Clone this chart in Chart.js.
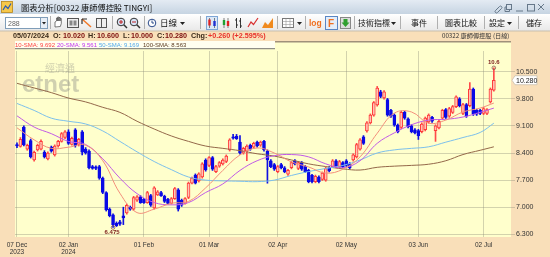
<!DOCTYPE html>
<html>
<head>
<meta charset="utf-8">
<script src="https://cdn.jsdelivr.net/npm/chart.js@4.4.1/dist/chart.umd.min.js"></script>
<style>
html, body { margin: 0; padding: 0; background: #f9dfb9; }
#wrap { position: relative; width: 550px; height: 257px; overflow: hidden; }
#c { position: absolute; left: 0; top: 0; }
#hdr { position: absolute; left: 0; top: 0; }
</style>
</head>
<body>
<div id="wrap">
<canvas id="c" width="550" height="257"></canvas>
<svg id="hdr" width="550" height="50" viewBox="0 0 550 50" xmlns="http://www.w3.org/2000/svg" font-family="'Noto Sans CJK TC','Liberation Sans',sans-serif">
  <defs>
    <linearGradient id="tg" x1="0" y1="0" x2="0" y2="1"><stop offset="0" stop-color="#e4ebf3"/><stop offset="1" stop-color="#c6d4e2"/></linearGradient>
    <linearGradient id="bg" x1="0" y1="0" x2="0" y2="1"><stop offset="0" stop-color="#ffffff"/><stop offset="1" stop-color="#e8e8e8"/></linearGradient>
  </defs>
  <!-- title bar -->
  <rect width="550" height="14" fill="url(#tg)"/>
  <rect x="1.5" y="1.5" width="11" height="11" fill="#f7c84a" stroke="#b8861a" stroke-width="0.8"/>
  <polyline points="3,10 5.5,6 8,8.5 11,3.5" fill="none" stroke="#2a5cb8" stroke-width="1.2"/>
  <text x="21" y="10.5" font-size="8.2" fill="#111">圖表分析[00322 康師傅控股 TINGYI]</text>
  <g stroke="#66788a" fill="none" stroke-width="1">
    <path d="M495.5 10.5 l4 -4 a1.4 1.4 0 0 1 2 2 l-4 4 a1.4 1.4 0 0 1 -2 -2z"/>
    <rect x="506.5" y="4.5" width="5" height="5"/>
    <path d="M506.5 7 h-1.5 v4.5 h4.5 v-1.5"/>
    <line x1="516" y1="11" x2="523" y2="11"/>
    <rect x="527.5" y="4.5" width="7" height="6.5"/>
    <path d="M538 4 l6 6 M544 4 l-6 6"/>
  </g>
  <!-- toolbar -->
  <rect x="0" y="14" width="550" height="17" fill="url(#bg)"/>
  <line x1="0" y1="31" x2="550" y2="31" stroke="#c9bfae"/>
  <rect x="5.5" y="17.5" width="35" height="11" fill="#fff" stroke="#7f9db9"/>
  <text x="8" y="26" font-size="7" fill="#666" font-family="Liberation Sans">288</text>
  <rect x="40.5" y="17.5" width="7" height="11" fill="#e8eef6" stroke="#7f9db9"/>
  <path d="M42 22 h4 l-2 2.5z" fill="#222"/>
  <g stroke="#b0b0b0">
    <line x1="50.5" y1="16" x2="50.5" y2="29"/>
    <line x1="112.5" y1="16" x2="112.5" y2="29"/>
    <line x1="144.5" y1="16" x2="144.5" y2="29"/>
    <line x1="200.5" y1="16" x2="200.5" y2="29"/>
    <line x1="277.5" y1="16" x2="277.5" y2="29"/>
    <line x1="305.5" y1="16" x2="305.5" y2="29"/>
    <line x1="354.5" y1="16" x2="354.5" y2="29"/>
    <line x1="400.5" y1="16" x2="400.5" y2="29"/>
    <line x1="437.5" y1="16" x2="437.5" y2="29"/>
    <line x1="484.5" y1="16" x2="484.5" y2="29"/>
    <line x1="518.5" y1="16" x2="518.5" y2="29"/>
  </g>
  <!-- icons -->
  <path d="M55 27 v-5 l1.5 -1 v-3 h1.2 v3 v-4 h1.2 v4 v-3.5 h1.2 v3.5 v-2.5 h1.2 v5 l-1 3 z" fill="#fff" stroke="#444" stroke-width="0.7"/>
  <rect x="67.5" y="18.5" width="11" height="9" fill="#eee" stroke="#555"/>
  <rect x="69.5" y="20.5" width="3" height="5" fill="#888"/><rect x="73.5" y="20.5" width="3" height="5" fill="#888"/>
  <line x1="82" y1="19" x2="91" y2="27" stroke="#f07828" stroke-width="1.5"/>
  <path d="M82 19 h5 M82 19 v5" stroke="#333" stroke-width="1.2"/>
  <rect x="96.5" y="18.5" width="10" height="9" fill="#eee" stroke="#555"/>
  <line x1="101.5" y1="18.5" x2="101.5" y2="27.5" stroke="#555"/>
  <circle cx="121" cy="22" r="3.8" fill="#d8e6f8" stroke="#333"/><path d="M119 22 h4 M121 20 v4" stroke="#c02020"/><line x1="123.8" y1="24.8" x2="127" y2="28" stroke="#333" stroke-width="1.5"/>
  <circle cx="134" cy="22" r="3.8" fill="#d8e6f8" stroke="#333"/><path d="M132 22 h4" stroke="#c02020"/><line x1="136.8" y1="24.8" x2="140" y2="28" stroke="#333" stroke-width="1.5"/>
  <circle cx="152" cy="23" r="3.8" fill="#fff" stroke="#2a4a8a"/><path d="M152 20.5 v2.5 h2" stroke="#2a4a8a" fill="none"/>
  <text x="160" y="26" font-size="8.5" fill="#111">日線</text>
  <path d="M180 22 h5 l-2.5 3z" fill="#222"/>
  <rect x="206.5" y="16.5" width="11" height="13" fill="#dbe8f7" stroke="#7ea6d6"/>
  <path d="M209.5 18 v10 M214.5 18 v10" stroke="#333" stroke-width="0.6"/>
  <rect x="208.3" y="19.5" width="2.4" height="6" fill="#e02020"/><rect x="213.3" y="21" width="2.4" height="5" fill="#2030d0"/>
  <path d="M224 18 v10 M228 18 v10" stroke="#333" stroke-width="0.6"/>
  <rect x="222.8" y="20" width="2.4" height="5" fill="#20a030"/><rect x="226.8" y="21" width="2.4" height="5" fill="#e02020"/>
  <path d="M236.5 18 v10 M240.5 18 v10 M235 20 h1.5 M236.5 25 h1.5 M239 21 h1.5 M240.5 26 h1.5" stroke="#222" stroke-width="0.9"/>
  <polyline points="248,27 251,22 253.5,24.5 258,18" fill="none" stroke="#d83030" stroke-width="1.2"/>
  <path d="M262 28 l3 -6 l3 3 l5 -7 v10 z" fill="#f08a1e"/>
  <rect x="282.5" y="18.5" width="11" height="9" fill="#fff" stroke="#777"/>
  <path d="M282.5 21.5 h11 M282.5 24.5 h11 M286 18.5 v9 M290 18.5 v9" stroke="#999" stroke-width="0.6"/>
  <path d="M297 22 h5 l-2.5 3z" fill="#222"/>
  <text x="309" y="26" font-size="8.5" font-weight="bold" fill="#f07020" font-family="Liberation Sans">log</text>
  <rect x="325.5" y="16.5" width="12" height="13" fill="#e4eefa" stroke="#5a86c4"/>
  <text x="328" y="27" font-size="10" font-weight="bold" fill="#f07020" font-family="Liberation Sans">F</text>
  <rect x="340.5" y="17.5" width="10" height="11" fill="#ddd" stroke="#888"/>
  <path d="M343.5 19 h4 v3.5 h2 l-4 4.5 l-4 -4.5 h2 z" fill="#30a030"/>
  <text x="358" y="26" font-size="8" fill="#111">技術指標</text>
  <path d="M391 22 h5 l-2.5 3z" fill="#222"/>
  <text x="411" y="26" font-size="8" fill="#111">事件</text>
  <text x="445" y="26" font-size="8" fill="#111">圖表比較</text>
  <text x="489" y="26" font-size="8" fill="#111">設定</text>
  <path d="M507 22 h5 l-2.5 3z" fill="#222"/>
  <text x="526" y="26" font-size="8" fill="#111">儲存</text>
  <!-- info band -->
  <g font-family="Liberation Sans" font-size="7.2" font-weight="bold">
    <text x="13" y="38" fill="#3a2a1a">05/07/2024</text>
    <text x="53" y="38" fill="#3a2a1a">O:</text><text x="63" y="38" fill="#7a0c0c">10.020</text>
    <text x="88" y="38" fill="#3a2a1a">H:</text><text x="97" y="38" fill="#7a0c0c">10.600</text>
    <text x="123" y="38" fill="#3a2a1a">L:</text><text x="131" y="38" fill="#7a0c0c">10.000</text>
    <text x="157" y="38" fill="#3a2a1a">C:</text><text x="165" y="38" fill="#7a0c0c">10.280</text>
    <text x="191" y="38" fill="#3a2a1a">Chg:</text><text x="208" y="38" fill="#e8302a">+0.260 (+2.595%)</text>
  </g>
  <text x="442" y="37.5" font-size="6.2" fill="#333">00322 康師傅控股 (日線)</text>
  <line x1="15" y1="41.8" x2="511" y2="41.8" stroke="#a0907a" stroke-width="1.4"/>
  <rect x="15" y="41" width="260" height="7.5" fill="#fffff0"/>
  <line x1="15" y1="48.6" x2="275" y2="48.6" stroke="#8f8f86" stroke-width="1.2"/>
  <g font-family="Liberation Sans" font-size="6">
    <text x="15" y="47" fill="#ff4040">10-SMA: 9.692</text>
    <text x="57" y="47" fill="#c030f0">20-SMA: 9.561</text>
    <text x="99" y="47" fill="#50a8ec">50-SMA: 9.169</text>
    <text x="143" y="47" fill="#5a3a20">100-SMA: 8.563</text>
  </g>
</svg>
</div>
<script>
// x ticks (trading-day index) and their labels
const tickIdx = [0, 15, 37, 56, 76, 96, 117, 136];
const tickLabels = [["07 Dec", "2023"], ["02 Jan", "2024"], "01 Feb", "01 Mar", "02 Apr", "02 May", "03 Jun", "02 Jul"];
const priceTicks = [6.3, 7.0, 7.7, 8.4, 9.1, 9.8, 10.5];

// daily candles, 07 Dec 2023 .. 05 Jul 2024
const open = [8.62, 8.57, 9.07, 8.50, 8.72, 8.22, 8.48, 8.50, 8.42, 8.25, 8.55, 8.35, 8.58, 8.70, 8.80,
  8.95, 8.62, 9.00, 8.62, 8.95, 8.50, 8.45, 8.05, 8.04, 8.05, 7.75, 7.38, 6.95, 6.80, 6.58, 6.62, 6.78, 6.85, 7.00, 6.95, 7.18, 7.27,
  7.20, 7.12, 7.30, 6.98, 7.32, 7.38, 7.28, 7.20, 7.10, 7.22, 7.45, 7.18, 7.10, 7.25, 7.62, 7.83, 7.68, 7.78, 8.22,
  8.08, 8.28, 7.92, 8.06, 8.12, 8.18, 8.48, 8.82, 8.83, 8.68, 8.40, 8.45, 8.60, 8.55, 8.68, 8.60, 8.70, 8.45, 8.20, 8.10,
  7.92, 8.10, 8.02, 7.85, 8.02, 8.20, 8.00, 8.15, 8.05, 7.95, 7.82, 7.66, 7.78, 7.72, 7.70, 8.02, 8.05, 8.20, 8.05, 8.15,
  8.20, 8.12, 8.22, 8.30, 8.50, 8.82, 8.97, 9.18, 9.38, 9.64, 9.98, 9.82, 9.78, 9.50, 9.38, 9.12, 9.06, 9.45, 9.28, 9.10, 9.00,
  8.98, 8.95, 9.00, 9.20, 9.32, 8.98, 9.05, 9.30, 9.52, 9.35, 9.45, 9.60, 9.80, 9.42, 9.65, 9.62, 10.05, 9.50, 9.50,
  9.42, 9.42, 9.72, 10.02];
const high = [8.66, 8.80, 9.10, 8.63, 8.76, 8.45, 8.63, 8.74, 8.46, 8.43, 8.58, 8.61, 8.73, 8.93, 8.98,
  9.00, 8.81, 9.03, 8.78, 8.98, 8.54, 8.48, 8.08, 8.07, 8.08, 7.78, 7.40, 6.98, 6.83, 6.62, 6.66, 7.00, 7.08, 7.03, 7.28, 7.30, 7.30,
  7.23, 7.41, 7.33, 7.53, 7.43, 7.41, 7.31, 7.23, 7.25, 7.51, 7.48, 7.21, 7.25, 7.65, 7.78, 7.86, 7.89, 8.15, 8.25,
  8.31, 8.31, 8.08, 8.18, 8.25, 8.35, 8.77, 8.88, 8.88, 8.85, 8.55, 8.61, 8.63, 8.68, 8.71, 8.71, 8.73, 8.48, 8.23, 8.13,
  8.08, 8.13, 8.05, 7.98, 8.18, 8.23, 8.18, 8.18, 8.08, 7.98, 7.85, 7.83, 7.81, 7.91, 8.03, 8.05, 8.23, 8.23, 8.21, 8.18,
  8.23, 8.15, 8.38, 8.65, 8.77, 8.85, 9.21, 9.41, 9.73, 10.12, 10.02, 10.01, 9.81, 9.53, 9.41, 9.15, 9.48, 9.48, 9.31, 9.13, 9.03,
  9.01, 9.18, 9.33, 9.41, 9.35, 9.13, 9.25, 9.53, 9.55, 9.58, 9.63, 9.88, 9.83, 9.68, 9.68, 10.22, 10.08, 9.53, 9.53,
  9.58, 9.55, 10.08, 10.60];
const low = [8.54, 8.55, 8.58, 8.47, 8.27, 8.19, 8.45, 8.48, 8.27, 8.22, 8.42, 8.32, 8.55, 8.68, 8.77,
  8.62, 8.60, 8.55, 8.58, 8.35, 8.37, 7.99, 7.98, 7.97, 7.72, 7.35, 6.90, 6.75, 6.475, 6.50, 6.53, 6.55, 6.82, 6.92, 6.92, 7.15, 7.10,
  7.10, 7.10, 7.02, 6.95, 7.30, 7.28, 7.12, 7.08, 7.08, 7.20, 6.90, 7.02, 7.08, 7.22, 7.60, 7.60, 7.65, 7.75, 7.93,
  8.05, 7.95, 7.89, 8.03, 8.09, 8.15, 8.45, 8.76, 8.75, 8.37, 8.37, 8.20, 8.47, 8.52, 8.55, 8.57, 8.45, 7.62, 8.02, 7.95,
  7.89, 7.99, 7.89, 7.82, 7.99, 8.09, 7.97, 7.95, 7.89, 7.63, 7.63, 7.63, 7.63, 7.69, 7.67, 7.91, 8.02, 8.02, 8.02, 8.02,
  8.05, 7.99, 8.19, 8.27, 8.47, 8.62, 8.94, 9.15, 9.35, 9.61, 9.83, 9.79, 9.35, 9.32, 9.09, 8.92, 9.03, 9.27, 9.05, 8.92, 8.89,
  8.75, 8.92, 8.97, 9.17, 9.19, 8.70, 9.02, 9.27, 9.29, 9.32, 9.42, 9.57, 9.59, 9.39, 9.32, 9.59, 9.37, 9.37, 9.39,
  9.39, 9.39, 9.69, 10.00];
const close = [8.58, 8.75, 8.61, 8.60, 8.30, 8.42, 8.60, 8.70, 8.30, 8.40, 8.45, 8.58, 8.70, 8.90, 8.95,
  8.65, 8.78, 8.58, 8.75, 8.42, 8.40, 8.02, 8.00, 8.00, 7.75, 7.38, 6.93, 6.78, 6.55, 6.52, 6.56, 6.72, 7.05, 6.95, 7.25, 7.27, 7.12,
  7.12, 7.38, 7.05, 7.50, 7.40, 7.30, 7.15, 7.10, 7.22, 7.48, 6.95, 7.05, 7.22, 7.62, 7.75, 7.62, 7.86, 8.12, 7.96,
  8.28, 7.98, 8.05, 8.15, 8.22, 8.32, 8.74, 8.78, 8.77, 8.40, 8.52, 8.58, 8.50, 8.65, 8.58, 8.68, 8.48, 8.22, 8.05, 7.98,
  8.05, 8.02, 7.92, 7.95, 8.15, 8.12, 8.15, 7.98, 7.92, 7.66, 7.66, 7.80, 7.66, 7.88, 8.00, 7.94, 8.20, 8.05, 8.18, 8.05,
  8.08, 8.02, 8.35, 8.62, 8.74, 8.65, 9.18, 9.38, 9.70, 10.08, 9.86, 9.98, 9.38, 9.35, 9.12, 8.95, 9.45, 9.30, 9.08, 8.95, 8.92,
  8.85, 9.15, 9.30, 9.38, 9.22, 9.10, 9.22, 9.50, 9.32, 9.55, 9.60, 9.85, 9.62, 9.65, 9.35, 10.05, 9.40, 9.40, 9.42,
  9.55, 9.52, 10.05, 10.28];

// moving averages at these day indices
const maIdx = [0, 5, 10, 15, 20, 25, 30, 35, 40, 45, 50, 55, 60, 65, 70, 75, 80, 85, 90, 95, 100, 105, 110, 115, 120, 125, 130, 135, 139];
const sma10 = [9.05, 8.74, 8.52, 8.55, 8.60, 8.20, 7.36, 6.86, 6.95, 7.10, 7.15, 7.50, 7.95, 8.35, 8.53, 8.40, 8.17, 8.04, 7.88, 7.98, 8.30, 8.91, 9.43, 9.46, 9.17, 9.25, 9.46, 9.56, 9.69];
const sma20 = [9.36, 9.07, 8.90, 8.70, 8.62, 8.25, 7.75, 7.35, 7.12, 7.06, 7.12, 7.38, 7.60, 7.95, 8.20, 8.33, 8.36, 8.30, 8.12, 8.02, 8.20, 8.65, 8.92, 9.13, 9.25, 9.27, 9.33, 9.45, 9.56];
const sma50 = [9.68, 9.50, 9.30, 9.22, 9.15, 8.97, 8.70, 8.43, 8.18, 7.97, 7.78, 7.70, 7.68, 7.67, 7.66, 7.70, 7.82, 7.92, 8.00, 8.08, 8.22, 8.40, 8.48, 8.52, 8.56, 8.68, 8.80, 8.93, 9.17];
const sma100 = [10.20, 10.08, 9.96, 9.82, 9.72, 9.58, 9.45, 9.22, 9.02, 8.84, 8.70, 8.58, 8.52, 8.46, 8.38, 8.32, 8.22, 8.12, 8.05, 7.99, 7.96, 8.03, 8.06, 8.08, 8.11, 8.20, 8.36, 8.47, 8.56];

const lastPrice = 10.28;
const lowMark = { i: 28, v: 6.475, text: "6.475" };
const highMark = { i: 139, v: 10.6, text: "10.6" };

const up = close.map((c, i) => c >= open[i]);
const wicks = close.map((c, i) => ({ x: i, y: [low[i], high[i]] }));
const bodies = close.map((c, i) => ({ x: i, y: [open[i], close[i]] }));
const maLine = (vals) => vals.map((v, k) => ({ x: maIdx[k], y: v }));

const gridColor = "rgba(140,140,120,0.38)";

const panelPlugin = {
    id: "panel",
    beforeDraw(chart) {
        const { ctx, chartArea: a } = chart;
        ctx.save();
        ctx.fillStyle = "#ffffcc";
        ctx.fillRect(a.left, 42, a.right - a.left, a.bottom - 42);
        ctx.restore();
    },
    beforeDatasetsDraw(chart) {
        const ctx = chart.ctx;
        ctx.save();
        ctx.fillStyle = "rgba(150,150,140,0.45)";
        ctx.font = "10px 'Noto Sans CJK TC'";
        ctx.textBaseline = "alphabetic";
        ctx.fillText("經濟通", 45, 72);
        ctx.font = "bold 24px 'Liberation Sans'";
        ctx.fillText("etnet", 22, 92);
        ctx.restore();
    },
    afterDatasetsDraw(chart) {
        const { ctx, scales: { x, y } } = chart;
        ctx.save();
        ctx.strokeStyle = "#8a5a50";
        ctx.lineWidth = 0.8;
        ctx.fillStyle = "#7a1a1a";
        ctx.font = "bold 6px 'Liberation Sans'";
        ctx.textAlign = "center";
        // low marker
        let px = x.getPixelForValue(lowMark.i), py = y.getPixelForValue(lowMark.v);
        ctx.beginPath(); ctx.arc(px, py, 1.8, 0, Math.PI * 2); ctx.stroke();
        ctx.textBaseline = "top";
        ctx.fillText(lowMark.text, px - 1, py + 2);
        // high marker
        px = x.getPixelForValue(highMark.i); py = y.getPixelForValue(highMark.v);
        ctx.beginPath(); ctx.arc(px, py, 1.8, 0, Math.PI * 2); ctx.stroke();
        ctx.textBaseline = "bottom";
        ctx.fillText(highMark.text, px, py - 2);
        // last price box on the axis
        const ly = y.getPixelForValue(lastPrice);
        const lx = chart.chartArea.right + 1;
        ctx.beginPath();
        ctx.moveTo(lx, ly);
        ctx.lineTo(lx + 3, ly - 4.5);
        ctx.lineTo(lx + 25, ly - 4.5);
        ctx.lineTo(lx + 25, ly + 4.5);
        ctx.lineTo(lx + 3, ly + 4.5);
        ctx.closePath();
        ctx.fillStyle = "#ffffff";
        ctx.fill();
        ctx.strokeStyle = "#c8c0b0";
        ctx.stroke();
        ctx.fillStyle = "#222";
        ctx.font = "7px 'Liberation Sans'";
        ctx.textAlign = "left";
        ctx.textBaseline = "middle";
        ctx.fillText(lastPrice.toFixed(3), lx + 4, ly + 0.5);
        ctx.restore();
    }
};

const ctx = document.getElementById("c").getContext("2d");
new Chart(ctx, {
    type: "bar",
    data: {
        datasets: [
            { type: "line", data: maLine(sma10), borderColor: "#f4907c", borderWidth: 1, pointRadius: 0, tension: 0.4, order: 0 },
            { type: "line", data: maLine(sma20), borderColor: "#c25be6", borderWidth: 1, pointRadius: 0, tension: 0.4, order: 0 },
            { type: "line", data: maLine(sma50), borderColor: "#7cc0ec", borderWidth: 1, pointRadius: 0, tension: 0.4, order: 0 },
            { type: "line", data: maLine(sma100), borderColor: "#94684a", borderWidth: 1, pointRadius: 0, tension: 0.4, order: 0 },
            {
                data: bodies,
                barThickness: 3,
                backgroundColor: up.map(u => u ? "#ffc4b4" : "#0a0ae6"),
                borderColor: up.map(u => u ? "#ff3a3a" : "#0a0ae6"),
                borderWidth: 1,
                borderSkipped: false,
                grouped: false,
                order: 1
            },
            {
                data: wicks,
                barThickness: 1,
                backgroundColor: up.map(u => u ? "#ff4a4a" : "#1010e0"),
                borderWidth: 0,
                grouped: false,
                order: 2
            }
        ]
    },
    options: {
        responsive: false,
        animation: false,
        layout: { padding: { left: 15, top: 51, right: 0, bottom: 0 } },
        plugins: { legend: { display: false }, tooltip: { enabled: false } },
        scales: {
            x: {
                type: "linear",
                min: -0.58,
                max: 144.0,
                offset: false,
                afterBuildTicks: s => { s.ticks = tickIdx.map(v => ({ value: v })); },
                afterFit: s => { s.height = 20; },
                grid: { color: gridColor, drawTicks: false, offset: false },
                border: { display: false },
                ticks: {
                    autoSkip: false,
                    maxRotation: 0,
                    minRotation: 0,
                    padding: 4,
                    color: "#333",
                    font: { family: "Liberation Sans", size: 6.5 },
                    callback: v => tickLabels[tickIdx.indexOf(v)]
                }
            },
            y: {
                type: "linear",
                position: "right",
                min: 6.23,
                max: 11.035,
                afterBuildTicks: s => { s.ticks = priceTicks.map(v => ({ value: v })); },
                afterFit: s => { s.width = 39; },
                grid: { color: gridColor, tickLength: 4 },
                border: { display: false },
                ticks: {
                    padding: 1,
                    color: "#333",
                    font: { family: "Liberation Sans", size: 7 },
                    callback: v => v.toFixed(3)
                }
            }
        }
    },
    plugins: [panelPlugin]
});
</script>
</body>
</html>
